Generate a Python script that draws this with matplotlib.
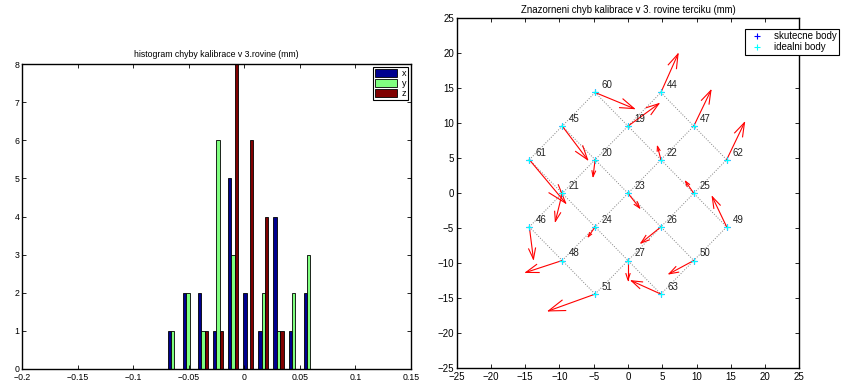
import numpy as np
import matplotlib
matplotlib.use('Agg')
import matplotlib.pyplot as plt
from matplotlib.patches import Patch

plt.rcParams['font.family'] = ['Liberation Sans', 'DejaVu Sans']
plt.rcParams['xtick.direction'] = 'in'
plt.rcParams['ytick.direction'] = 'in'

# histogram data (bin centers and counts per axis)
bin_centers = [-0.0644, -0.0508, -0.0372, -0.0236, -0.0100, 0.0036, 0.0172, 0.0308, 0.0444, 0.0580]
count_x = [1, 2, 2, 1, 5, 2, 1, 4, 1, 2]
count_y = [1, 2, 1, 6, 3, 0, 2, 1, 2, 3]
count_z = [0, 0, 1, 1, 8, 6, 4, 1, 0, 0]
series_names = ['x', 'y', 'z']
series_colors = ['#00008f', '#80ff80', '#800000']

# calibration points: label, ideal position, error vector (scaled)
labels = [19, 20, 21, 22, 23, 24, 25, 26, 27, 44, 45, 46, 47, 48, 49, 50, 51, 60, 61, 62, 63]
pt_x = [0, -4.8, -9.6, 4.8, 0, -4.8, 9.6, 4.8, 0, 4.8, -9.6, -14.4, 9.6, -9.6, 14.4, 9.6, -4.8, -4.8, -14.4, 14.4, 4.8]
pt_y = [9.6, 4.8, 0, 4.8, 0, -4.8, 0, -4.8, -9.6, 14.4, 9.6, -4.8, 9.6, -9.6, -4.8, -9.6, -14.4, 14.4, 4.8, 4.8, -14.4]
err_u = [4.5, -0.3, -1.0, -0.5, 1.7, -1.0, -1.2, -2.9, 0.0, 2.5, 3.7, 0.6, 2.5, -5.3, -2.1, -3.6, -6.8, 5.7, 5.3, 2.6, -4.3]
err_v = [3.2, -2.4, -4.0, 1.9, -2.1, -1.4, 1.7, -2.3, -2.8, 5.5, -4.8, -4.6, 5.1, -1.7, 4.3, -1.9, -2.4, -2.3, -6.2, 5.3, 1.9]

# grid rows (by label) for the dotted lines
grid_rows = [[61, 45, 60], [46, 21, 20, 19, 44], [48, 24, 23, 22, 47], [51, 27, 26, 25, 62], [63, 50, 49],
             [60, 19, 22, 25, 49], [45, 20, 23, 26, 50], [61, 21, 24, 27, 63], [44, 47, 62], [46, 48, 51]]

W, H = 842, 385
fig = plt.figure(figsize=(W / 100.0, H / 100.0), dpi=100)

def setup_axes(ax, size):
    ax.tick_params(top=True, right=True, length=3, width=0.6, labelsize=size, pad=2)
    ax.tick_params(axis='x', pad=3)
    for s in ax.spines.values():
        s.set_linewidth(1.0)

# ---- left: histogram
ax1 = fig.add_axes([22.0 / W, 1 - 369.0 / H, 389.0 / W, 305.0 / H])
step = bin_centers[1] - bin_centers[0]
bw = step * (3 / 4.5) / 3
for k, counts in enumerate([count_x, count_y, count_z]):
    pos = np.array(bin_centers) + (k - 1) * bw
    ax1.bar(pos, counts, width=bw, color=series_colors[k], edgecolor='black', linewidth=0.6)
ax1.set_xlim(-0.2, 0.15)
ax1.set_ylim(0, 8)
ax1.set_xticks(np.arange(-0.2, 0.151, 0.05))
ax1.set_xticklabels(['\u22120.2', '\u22120.15', '\u22120.1', '\u22120.05', '0', '0.05', '0.1', '0.15'])
ax1.set_yticks(range(0, 9))
setup_axes(ax1, 6.3)
ax1.set_title('histogram chyby kalibrace v 3.rovine (mm)', fontsize=6.3, pad=5)
handles = [Patch(facecolor=c, edgecolor='black', linewidth=0.6) for c in series_colors]
leg = ax1.legend(handles, series_names, loc='upper right', fontsize=6.5, frameon=True, fancybox=False,
                 edgecolor='black', framealpha=1, borderaxespad=0.3, handlelength=2.4, handleheight=1.0,
                 borderpad=0.25, labelspacing=0.1, handletextpad=0.5)
leg.get_frame().set_linewidth(0.8)

# ---- right: calibration errors
ax2 = fig.add_axes([456.7 / W, 1 - 368.3 / H, 342.6 / W, 350.0 / H])
idx = {lab: i for i, lab in enumerate(labels)}
for row in grid_rows:
    xs = [pt_x[idx[l]] for l in row]
    ys = [pt_y[idx[l]] for l in row]
    ax2.plot(xs, ys, linestyle=':', color='#808080', linewidth=0.7)

# arrows drawn MATLAB quiver style (open heads scaled with length)
alpha, beta = 0.33, 0.33
for x, y, u, v in zip(pt_x, pt_y, err_u, err_v):
    tx, ty = x + u, y + v
    ax2.plot([x, tx], [y, ty], color='red', linewidth=0.8)
    ax2.plot([tx - alpha * (u + beta * v), tx, tx - alpha * (u - beta * v)],
             [ty - alpha * (v - beta * u), ty, ty - alpha * (v + beta * u)], color='red', linewidth=0.8)

ax2.plot(pt_x, pt_y, '+', color='blue', markersize=5, markeredgewidth=0.8, label='skutecne body')
ax2.plot(pt_x, pt_y, '+', color='cyan', markersize=5, markeredgewidth=0.8, label='idealni body')
for lab, x, y in zip(labels, pt_x, pt_y):
    ax2.text(x + 0.9, y + 1.0, str(lab), fontsize=7, ha='left', va='center', color='#222222')

ax2.set_xlim(-25, 25)
ax2.set_ylim(-25, 25)
ticks = range(-25, 26, 5)
tick_lbl = [str(t).replace('-', '\u2212') for t in ticks]
ax2.set_xticks(ticks)
ax2.set_xticklabels(tick_lbl)
ax2.set_yticks(ticks)
ax2.set_yticklabels(tick_lbl)
setup_axes(ax2, 7)
ax2.set_title('Znazorneni chyb kalibrace v 3. rovine terciku (mm)', fontsize=6.9, pad=4)
leg2 = ax2.legend(loc='upper right', bbox_to_anchor=(839.0 / W, 1 - 29.0 / H), bbox_transform=fig.transFigure,
                  fontsize=7, frameon=True, fancybox=False, edgecolor='black', framealpha=1,
                  borderaxespad=0, borderpad=0.25, labelspacing=0.1, handlelength=2.0, handletextpad=0.7)
leg2.get_frame().set_linewidth(0.8)

fig.savefig('out.png', dpi=100)
